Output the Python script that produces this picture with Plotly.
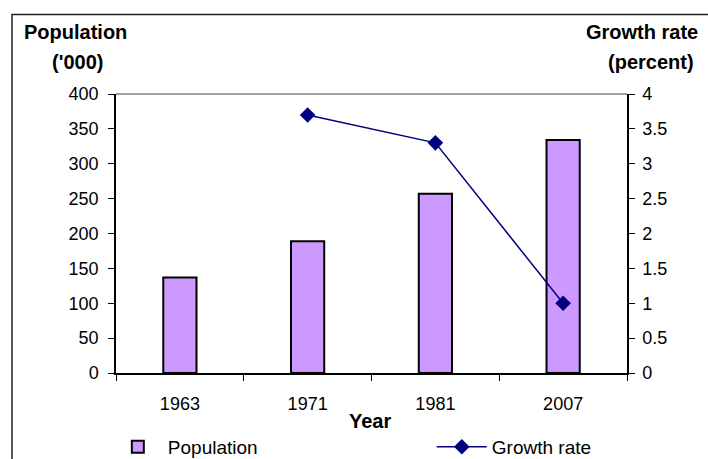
import plotly.graph_objects as go

years = ["1963", "1971", "1981", "2007"]
population = [137, 189, 257, 334]
growth_years = ["1971", "1981", "2007"]
growth_rate = [3.7, 3.3, 1.0]

FONT = "Liberation Sans, Arial, sans-serif"

fig = go.Figure()
fig.add_trace(go.Bar(
    x=years, y=population, name="Population",
    marker=dict(color="#CC99FF", line=dict(color="black", width=2)),
    width=0.26, yaxis="y", legend="legend",
))
fig.add_trace(go.Scatter(
    x=growth_years, y=growth_rate, name="Growth rate", mode="lines+markers",
    line=dict(color="#000080", width=1.5),
    marker=dict(symbol="diamond", size=12, color="#000080"),
    yaxis="y2", legend="legend2",
))

leg_common = dict(orientation="h", y=-0.265, yanchor="middle", xanchor="left",
                  font=dict(family=FONT, size=19), itemwidth=50,
                  bgcolor="rgba(0,0,0,0)")

fig.update_layout(
    width=708, height=459,
    margin=dict(l=116, r=81, t=94, b=86, autoexpand=False),
    paper_bgcolor="white", plot_bgcolor="white",
    font=dict(family=FONT, size=18, color="black"),
    showlegend=True,
    legend=dict(x=-0.016, **leg_common),
    legend2=dict(x=0.618, **leg_common),
    xaxis=dict(type="category", showline=True, linecolor="black", linewidth=1.5,
               ticks="outside", ticklen=6, tickcolor="black", tickson="boundaries",
               showgrid=False, tickfont=dict(size=18), ticklabelstandoff=14,
               automargin=False),
    yaxis=dict(range=[0, 400], dtick=50, showline=True, linecolor="black", linewidth=1.5,
               ticks="outside", ticklen=6, tickcolor="black", showgrid=False,
               zeroline=False, tickfont=dict(size=18), ticklabelstandoff=6,
               automargin=False),
    yaxis2=dict(range=[0, 4], dtick=0.5, overlaying="y", side="right", showline=True,
                linecolor="black", linewidth=1.5, ticks="outside", ticklen=6,
                tickcolor="black", showgrid=False, zeroline=False,
                tickfont=dict(size=18), ticklabelstandoff=4, automargin=False),
)

annos = [
    dict(text="<b>Population</b>", x=-0.184, y=1.222, xanchor="left"),
    dict(text="<b>('000)</b>", x=-0.076, y=1.115, xanchor="center"),
    dict(text="<b>Growth rate</b>", x=1.143, y=1.222, xanchor="right"),
    dict(text="<b>(percent)</b>", x=1.135, y=1.115, xanchor="right"),
    dict(text="<b>Year</b>", x=0.497, y=-0.172, xanchor="center"),
]
for a in annos:
    fig.add_annotation(xref="paper", yref="paper", showarrow=False, yanchor="middle",
                       font=dict(family=FONT, size=20, color="black"), **a)

fig.add_shape(type="line", xref="paper", yref="paper", x0=0, x1=1, y0=1, y1=1,
              line=dict(color="#808080", width=1.5))
fig.add_shape(type="rect", xref="paper", yref="paper", x0=-0.2035, x1=1.17, y0=-0.33, y1=1.285,
              line=dict(color="#222222", width=1.5), fillcolor="rgba(0,0,0,0)", layer="below")

fig.write_html("out.html", config={"displayModeBar": False},
               post_script="document.body.style.margin='0';document.body.style.overflow='hidden';")
